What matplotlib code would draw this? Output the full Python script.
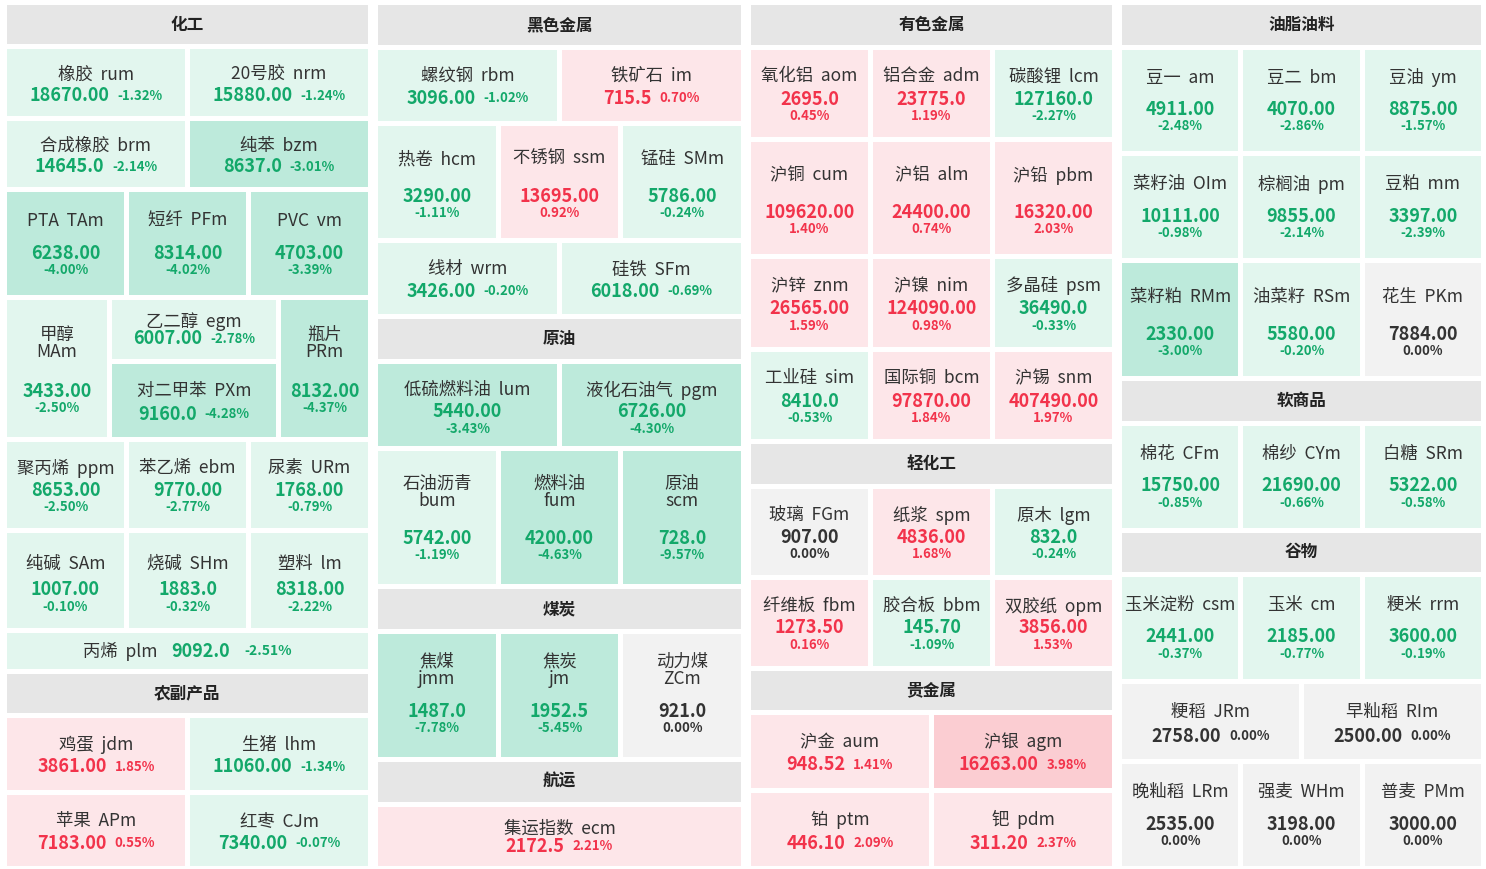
import matplotlib
matplotlib.use("Agg")
import matplotlib.pyplot as plt
from matplotlib.patches import Rectangle

plt.rcParams["font.family"] = ["Noto Sans CJK SC", "DejaVu Sans"]

# ---- data ----
names = ["橡胶", "20号胶", "合成橡胶", "纯苯", "PTA", "短纤", "PVC", "甲醇", "乙二醇", "对二甲苯", "瓶片",
         "聚丙烯", "苯乙烯", "尿素", "纯碱", "烧碱", "塑料", "丙烯", "鸡蛋", "生猪", "苹果", "红枣",
         "螺纹钢", "铁矿石", "热卷", "不锈钢", "锰硅", "线材", "硅铁", "低硫燃料油", "液化石油气",
         "石油沥青", "燃料油", "原油", "焦煤", "焦炭", "动力煤", "集运指数",
         "氧化铝", "铝合金", "碳酸锂", "沪铜", "沪铝", "沪铅", "沪锌", "沪镍", "多晶硅", "工业硅", "国际铜", "沪锡",
         "玻璃", "纸浆", "原木", "纤维板", "胶合板", "双胶纸", "沪金", "沪银", "铂", "钯",
         "豆一", "豆二", "豆油", "菜籽油", "棕榈油", "豆粕", "菜籽粕", "油菜籽", "花生",
         "棉花", "棉纱", "白糖", "玉米淀粉", "玉米", "粳米", "粳稻", "早籼稻", "晚籼稻", "强麦", "普麦"]
codes = ["rum", "nrm", "brm", "bzm", "TAm", "PFm", "vm", "MAm", "egm", "PXm", "PRm",
         "ppm", "ebm", "URm", "SAm", "SHm", "lm", "plm", "jdm", "lhm", "APm", "CJm",
         "rbm", "im", "hcm", "ssm", "SMm", "wrm", "SFm", "lum", "pgm",
         "bum", "fum", "scm", "jmm", "jm", "ZCm", "ecm",
         "aom", "adm", "lcm", "cum", "alm", "pbm", "znm", "nim", "psm", "sim", "bcm", "snm",
         "FGm", "spm", "lgm", "fbm", "bbm", "opm", "aum", "agm", "ptm", "pdm",
         "am", "bm", "ym", "OIm", "pm", "mm", "RMm", "RSm", "PKm",
         "CFm", "CYm", "SRm", "csm", "cm", "rrm", "JRm", "RIm", "LRm", "WHm", "PMm"]
prices = ["18670.00", "15880.00", "14645.0", "8637.0", "6238.00", "8314.00", "4703.00", "3433.00", "6007.00",
          "9160.0", "8132.00", "8653.00", "9770.00", "1768.00", "1007.00", "1883.0", "8318.00", "9092.0",
          "3861.00", "11060.00", "7183.00", "7340.00",
          "3096.00", "715.5", "3290.00", "13695.00", "5786.00", "3426.00", "6018.00", "5440.00", "6726.00",
          "5742.00", "4200.00", "728.0", "1487.0", "1952.5", "921.0", "2172.5",
          "2695.0", "23775.0", "127160.0", "109620.00", "24400.00", "16320.00", "26565.00", "124090.00",
          "36490.0", "8410.0", "97870.00", "407490.00",
          "907.00", "4836.00", "832.0", "1273.50", "145.70", "3856.00", "948.52", "16263.00", "446.10", "311.20",
          "4911.00", "4070.00", "8875.00", "10111.00", "9855.00", "3397.00", "2330.00", "5580.00", "7884.00",
          "15750.00", "21690.00", "5322.00", "2441.00", "2185.00", "3600.00", "2758.00", "2500.00",
          "2535.00", "3198.00", "3000.00"]
changes = [-1.32, -1.24, -2.14, -3.01, -4.00, -4.02, -3.39, -2.50, -2.78, -4.28, -4.37,
           -2.50, -2.77, -0.79, -0.10, -0.32, -2.22, -2.51, 1.85, -1.34, 0.55, -0.07,
           -1.02, 0.70, -1.11, 0.92, -0.24, -0.20, -0.69, -3.43, -4.30,
           -1.19, -4.63, -9.57, -7.78, -5.45, 0.00, 2.21,
           0.45, 1.19, -2.27, 1.40, 0.74, 2.03, 1.59, 0.98, -0.33, -0.53, 1.84, 1.97,
           0.00, 1.68, -0.24, 0.16, -1.09, 1.53, 1.41, 3.98, 2.09, 2.37,
           -2.48, -2.86, -1.57, -0.98, -2.14, -2.39, -3.00, -0.20, 0.00,
           -0.85, -0.66, -0.58, -0.37, -0.77, -0.19, 0.00, 0.00, 0.00, 0.00, 0.00]

stacked_names = {"甲醇", "瓶片", "石油沥青", "燃料油", "原油", "焦煤", "焦炭", "动力煤"}
inline_values = {"橡胶", "20号胶", "合成橡胶", "纯苯", "乙二醇", "对二甲苯", "鸡蛋", "生猪", "苹果", "红枣",
                 "螺纹钢", "铁矿石", "线材", "硅铁", "集运指数", "沪金", "沪银", "铂", "钯", "粳稻", "早籼稻"}
one_line = {"丙烯"}

# ---- layout: columns of headers and rows (relative heights) ----
columns = [
    (7, 368, [("h", "化工", 39), ("r", ["橡胶", "20号胶"], 66), ("r", ["合成橡胶", "纯苯"], 66),
              ("r", ["PTA", "短纤", "PVC"], 103),
              ("r", ["甲醇", (["乙二醇", "对二甲苯"], [58, 73]), "瓶片"], 136, [100, 165, 87]),
              ("r", ["聚丙烯", "苯乙烯", "尿素"], 86), ("r", ["纯碱", "烧碱", "塑料"], 94), ("r", ["丙烯"], 36),
              ("h", "农副产品", 39), ("r", ["鸡蛋", "生猪"], 71), ("r", ["苹果", "红枣"], 71)]),
    (378, 741, [("h", "黑色金属", 39), ("r", ["螺纹钢", "铁矿石"], 70), ("r", ["热卷", "不锈钢", "锰硅"], 110),
                ("r", ["线材", "硅铁"], 70), ("h", "原油", 39), ("r", ["低硫燃料油", "液化石油气"], 80),
                ("r", ["石油沥青", "燃料油", "原油"], 131), ("h", "煤炭", 39), ("r", ["焦煤", "焦炭", "动力煤"], 121),
                ("h", "航运", 39), ("r", ["集运指数"], 58)]),
    (751, 1112, [("h", "有色金属", 39), ("r", ["氧化铝", "铝合金", "碳酸锂"], 86), ("r", ["沪铜", "沪铝", "沪铅"], 110),
                 ("r", ["沪锌", "沪镍", "多晶硅"], 86), ("r", ["工业硅", "国际铜", "沪锡"], 86),
                 ("h", "轻化工", 39), ("r", ["玻璃", "纸浆", "原木"], 85), ("r", ["纤维板", "胶合板", "双胶纸"], 84),
                 ("h", "贵金属", 39), ("r", ["沪金", "沪银"], 71), ("r", ["铂", "钯"], 72)]),
    (1122, 1481, [("h", "油脂油料", 39), ("r", ["豆一", "豆二", "豆油"], 100), ("r", ["菜籽油", "棕榈油", "豆粕"], 100),
                  ("r", ["菜籽粕", "油菜籽", "花生"], 111), ("h", "软商品", 39), ("r", ["棉花", "棉纱", "白糖"], 100),
                  ("h", "谷物", 39), ("r", ["玉米淀粉", "玉米", "粳米"], 100), ("r", ["粳稻", "早籼稻"], 74),
                  ("r", ["晚籼稻", "强麦", "普麦"], 100)]),
]

GAP = 5
TOP, BOTTOM = 5, 866
W, H = 1486, 869

fig = plt.figure(figsize=(W / 100, H / 100), dpi=100)
ax = fig.add_axes([0, 0, 1, 1])
ax.set_xlim(0, W)
ax.set_ylim(H, 0)
ax.axis("off")
renderer = fig.canvas.get_renderer()

lookup = {n: (c, p, v) for n, c, p, v in zip(names, codes, prices, changes)}

RED, GREEN, DARK = "#f2334b", "#13a86a", "#333333"


def tile_colors(v):
    if v > 0:
        return ("#fbcdd2" if v >= 3 else "#fde6e9"), RED
    if v < 0:
        return ("#bdeadb" if v <= -3 else "#e2f6ee"), GREEN
    return "#f2f2f2", DARK


def inline_parts(cx, y, parts, gap=8):
    texts = []
    for s, color, size, weight in parts:
        texts.append(ax.text(0, y, s, color=color, fontsize=size, fontweight=weight, ha="left", va="center"))
    widths = [t.get_window_extent(renderer).width for t in texts]
    total = sum(widths) + gap * (len(texts) - 1)
    x = cx - total / 2
    for t, w in zip(texts, widths):
        t.set_x(x)
        x += w + gap


def draw_tile(name, x0, x1, y0, y1):
    code, price, chg = lookup[name]
    bg, col = tile_colors(chg)
    ax.add_patch(Rectangle((x0, y0), x1 - x0, y1 - y0, color=bg, lw=0))
    cx = (x0 + x1) / 2
    label = f"{name}\n{code}" if name in stacked_names else f"{name}  {code}"
    pct = f"{chg:.2f}%"
    if name in one_line:
        inline_parts(cx, (y0 + y1) / 2, [(label, DARK, 12.5, "normal"), (price, col, 13, "bold"),
                                         (pct, col, 10, "bold")], gap=14)
        return
    h = y1 - y0
    if name in inline_values:
        py = y1 - 20 if h < 68 else y1 - 23
        inline_parts(cx, py, [(price, col, 13, "bold"), (pct, col, 9.5, "bold")])
    else:
        if name in stacked_names:
            py = y1 - 46
        elif h < 84:
            py = y1 - 34
        elif h < 95:
            py = y1 - 38
        else:
            py = y1 - 42
        ax.text(cx, py, price, color=col, fontsize=13, fontweight="bold", ha="center", va="center")
        ax.text(cx, py + 17, pct, color=col, fontsize=9.5, fontweight="bold", ha="center", va="center")
    ny = (y0 + py) / 2 + (2 if h < 95 else -2)
    ax.text(cx, ny, label, color=DARK, fontsize=12.5, ha="center", va="center", linespacing=0.95)


def split(a0, a1, weights):
    avail = a1 - a0 - GAP * (len(weights) - 1)
    tot = sum(weights)
    out, p = [], a0
    for w in weights:
        s = avail * w / tot
        out.append((p, p + s))
        p += s + GAP
    return out


for x0, x1, blocks in columns:
    ys = split(TOP, BOTTOM, [b[2] for b in blocks])
    for b, (y0, y1) in zip(blocks, ys):
        if b[0] == "h":
            ax.add_patch(Rectangle((x0, y0), x1 - x0, y1 - y0, color="#e6e6e6", lw=0))
            ax.text((x0 + x1) / 2, (y0 + y1) / 2, b[1], fontsize=12, fontweight="bold", color="#222222",
                    ha="center", va="center")
            continue
        items = b[1]
        weights = b[3] if len(b) > 3 else [1] * len(items)
        for item, (tx0, tx1) in zip(items, split(x0, x1, weights)):
            if isinstance(item, tuple):
                sub, vw = item
                for n, (sy0, sy1) in zip(sub, split(y0, y1, vw)):
                    draw_tile(n, tx0, tx1, sy0, sy1)
            else:
                draw_tile(item, tx0, tx1, y0, y1)

fig.savefig("out.png", dpi=100, facecolor="white")
